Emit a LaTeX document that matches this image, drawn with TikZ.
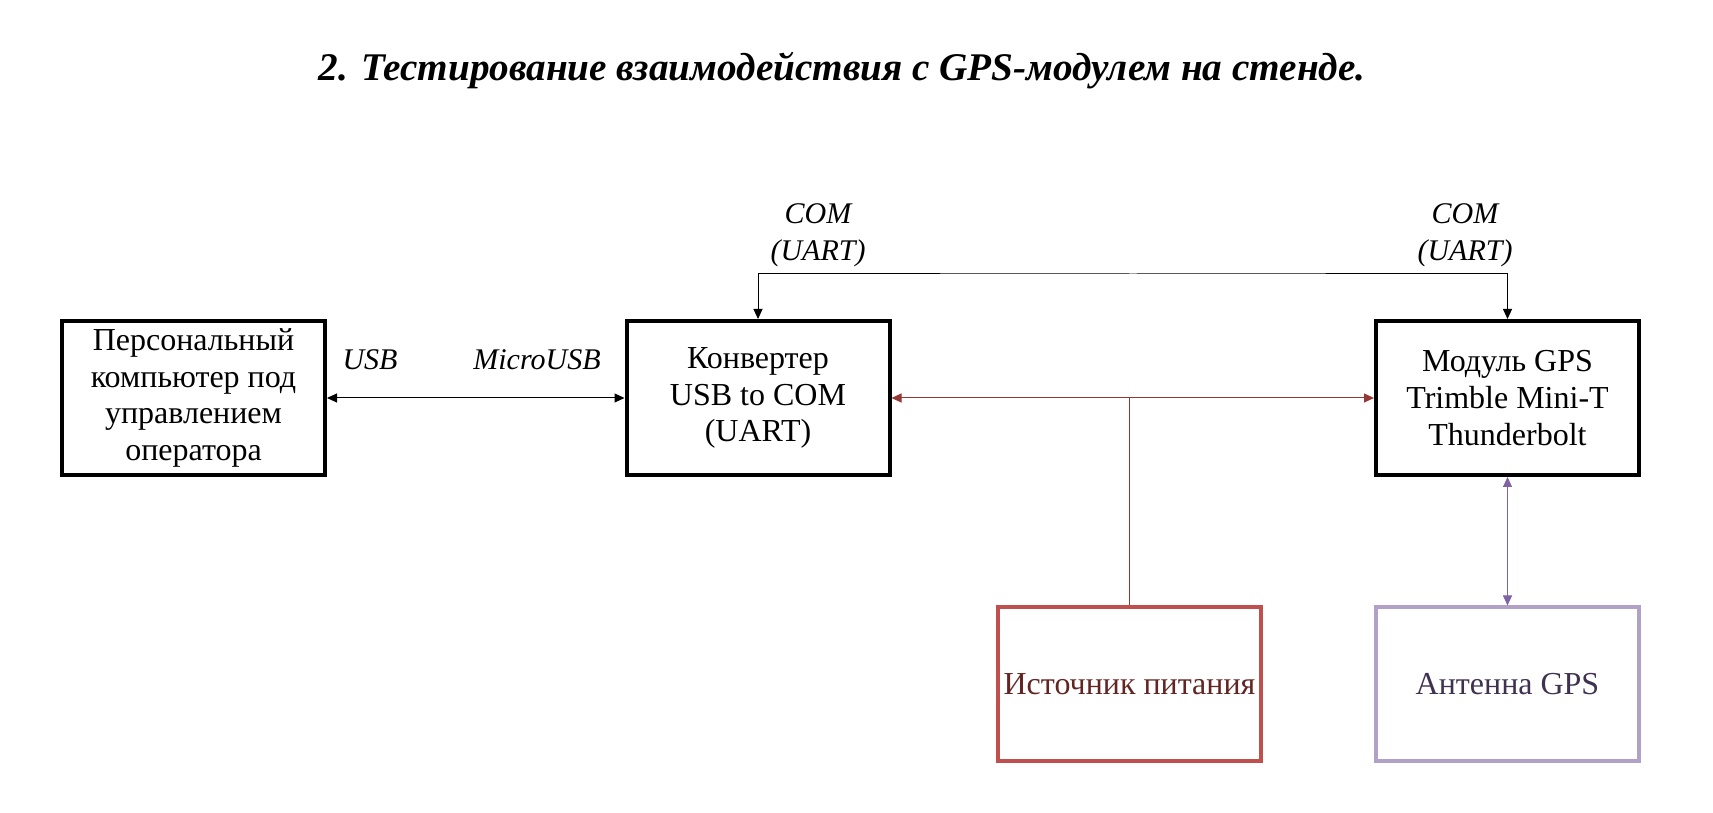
\documentclass[tikz,border=0pt]{standalone}
\usepackage{fontspec}
\setmainfont{Liberation Serif}
\usepackage{tikz}
\usetikzlibrary{arrows.meta,shapes}
\definecolor{powerred}{HTML}{C0504D}
\definecolor{powerline}{HTML}{953735}
\definecolor{powertext}{HTML}{632523}
\definecolor{antennaborder}{HTML}{B2A1C7}
\definecolor{antennaline}{HTML}{8064A2}
\definecolor{antennatext}{HTML}{403151}
\tikzstyle{block}=[rectangle,draw=black,line width=2pt,minimum width=131.5pt,minimum height=77pt,inner sep=2pt,align=center,font=\fontsize{16}{18.3}\selectfont]
\tikzstyle{power block}=[block,draw=powerred,text=powertext]
\tikzstyle{antenna block}=[block,draw=antennaborder,text=antennatext]
\tikzstyle{arrow}=[draw,line width=0.5pt,{Triangle[length=5pt,width=4.5pt]}-{Triangle[length=5pt,width=4.5pt]}]
\tikzstyle{iface}=[font=\itshape\fontsize{15}{18.3}\selectfont,align=center,inner sep=0pt]
\tikzstyle{heading}=[font=\bfseries\itshape\fontsize{19.6}{24}\selectfont]

\begin{document}
\begin{tikzpicture}[x=0.5pt,y=0.5pt]
    \useasboundingbox (0,0) rectangle (1713,813);
    \node[heading] (title) at (842,742) {2. Тестирование взаимодействия с GPS-модулем на стенде.};
    \foreach \pos/\name/\txt in {{(193.5,415)/pc/Персональный\\компьютер под\\управлением\\оператора},
        {(758,415)/conv/Конвертер\\USB to COM\\(UART)}, {(1507.5,415)/gps/Модуль GPS\\Trimble Mini-T\\Thunderbolt}}
        \node[block] (\name) at \pos {\txt};
    \node[power block] (power) at (1129.5,128.5) {Источник питания};
    \node[antenna block] (antenna) at (1507.5,128.5) {Антенна GPS};
    % interface labels
    \foreach \pos/\name/\txt in {{(370,453)/usb/USB}, {(537,453)/microusb/MicroUSB},
        {(818,578)/comleft/COM\\(UART)}, {(1465,578)/comright/COM\\(UART)}}
        \node[iface] (\name) at \pos {\txt};
    % connections
    \coordinate (combus) at (1133,539);
    \coordinate (powerbus) at (power.north |- conv.east);
    \path[arrow] (pc) -- (conv);
    \path[arrow] (conv.north) |- (combus) -| (gps.north);
    \path[arrow,draw=powerline,fill=powerline] (conv.east) -- (gps.west);
    \draw[powerline,line width=0.5pt] (power.north) -- (powerbus);
    \path[arrow,draw=antennaline,fill=antennaline] (gps.south) -- (antenna.north);
\end{tikzpicture}
\end{document}
